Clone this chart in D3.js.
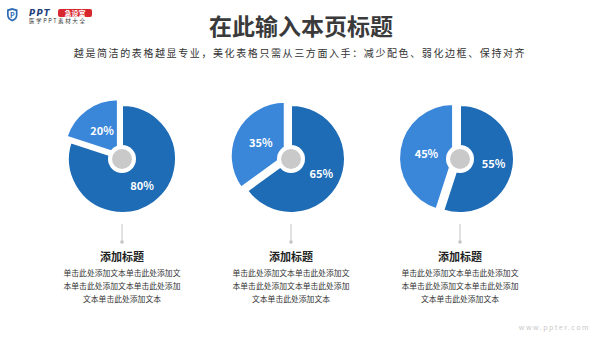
<!DOCTYPE html>
<html>
<head>
<meta charset="utf-8">
<script src="https://cdn.jsdelivr.net/npm/d3@7"></script>
<style>
  html, body { margin: 0; padding: 0; background: #fff; }
  svg { display: block; font-family: "Noto Sans CJK SC", "Noto Sans", sans-serif; }
</style>
</head>
<body>
<svg id="chart" width="600" height="337"></svg>
<script>
// chart data
var groups = ["g1", "g2", "g3"];
var dark_values = [80, 65, 55];
var light_values = [20, 35, 45];
var item_titles = ["添加标题", "添加标题", "添加标题"];
var item_lines = ["单击此处添加文本单击此处添加文", "本单击此处添加文本单击此处添加", "文本单击此处添加文本"];
var page_title = "在此输入本页标题";
var page_subtitle = "越是简洁的表格越显专业，美化表格只需从三方面入手：减少配色、弱化边框、保持对齐";

var width = 600, height = 337;
var radius = 54;
var explode = 7;
var dark_color = "#1e6cb6";
var light_color = "#3a87da";

var svg = d3.select("#chart");

// logo
var logo = svg.append("g").attr("transform", "translate(7,8)");
logo.append("path")
    .attr("d", "M5,0 L10.5,1.5 L10.5,7 Q10.5,11.5 5.25,13.5 Q0,11.5 0,7 L0,1.5 Z")
    .attr("fill", "#2d6bb3");
logo.append("path")
    .attr("d", "M5.25,2 L8.8,3 L8.8,7 Q8.8,10 5.25,11.6 Q1.7,10 1.7,7 L1.7,3 Z")
    .attr("fill", "#fff");
logo.append("text").attr("x", 5.25).attr("y", 9.8)
    .attr("text-anchor", "middle").attr("font-size", 7).attr("font-weight", "bold")
    .attr("fill", "#2d6bb3").text("P");
logo.append("text").attr("x", 22).attr("y", 8)
    .attr("font-size", 8.5).attr("font-weight", "bold").attr("font-style", "italic")
    .attr("letter-spacing", 1.2)
    .attr("fill", "#233f7a").attr("font-family", "DejaVu Sans").text("PPT");
logo.append("rect").attr("x", 51).attr("y", 1).attr("width", 34).attr("height", 8)
    .attr("rx", 2).attr("fill", "#d7262d");
logo.append("text").attr("x", 68).attr("y", 7.8).attr("text-anchor", "middle")
    .attr("font-size", 7).attr("font-weight", "bold").attr("fill", "#fff").text("急设室");
logo.append("text").attr("x", 22).attr("y", 15)
    .attr("font-size", 5.5).attr("letter-spacing", 1.6).attr("fill", "#333")
    .text("医学PPT素材大全");

// titles
svg.append("text")
    .attr("x", 301).attr("y", 35)
    .attr("text-anchor", "middle")
    .attr("font-size", 23).attr("font-weight", "bold")
    .attr("fill", "#3a3a3a")
    .text(page_title);

svg.append("text")
    .attr("x", 300).attr("y", 57)
    .attr("text-anchor", "middle")
    .attr("font-size", 10).attr("letter-spacing", 1.6)
    .attr("fill", "#333")
    .text(page_subtitle);

// pies
var x = d3.scalePoint().domain(groups).range([122, 460]);
var cy = 159;

var pie = d3.pie().sort(null).value(function(d) { return d.value; });
var arc = d3.arc().innerRadius(0).outerRadius(radius);
var label_arc = d3.arc().innerRadius(34).outerRadius(34);

groups.forEach(function(g, i) {
    var slices = pie([
        {value: dark_values[i], type: "dark"},
        {value: light_values[i], type: "light"}
    ]);
    var cx = x(g);
    var gp = svg.append("g").attr("transform", "translate(" + cx + "," + cy + ")");

    gp.selectAll("path")
        .data(slices)
        .enter().append("path")
            .attr("d", arc)
            .attr("fill", function(d) { return d.data.type == "dark" ? dark_color : light_color; })
            .attr("stroke", "#fff")
            .attr("stroke-width", 2)
            .attr("transform", function(d) {
                if (d.data.type == "dark") return null;
                var a = (d.startAngle + d.endAngle) / 2;
                return "translate(" + (Math.sin(a) * explode) + "," + (-Math.cos(a) * explode) + ")";
            });

    gp.selectAll("text.pct")
        .data(slices)
        .enter().append("text")
            .attr("class", "pct")
            .attr("transform", function(d) { return "translate(" + label_arc.centroid(d) + ")"; })
            .attr("text-anchor", "middle")
            .attr("dy", "0.35em")
            .attr("font-size", 11).attr("font-weight", "bold")
            .attr("fill", "#fff")
            .text(function(d) { return d.data.value + "%"; });

    gp.append("circle").attr("r", 14).attr("fill", "#fff");
    gp.append("circle").attr("r", 10).attr("fill", "#c9c9c9");

    // connector + text
    svg.append("line")
        .attr("x1", cx).attr("x2", cx)
        .attr("y1", 224).attr("y2", 242)
        .attr("stroke", "#c4c4c4").attr("stroke-width", 1);
    svg.append("circle")
        .attr("cx", cx).attr("cy", 242).attr("r", 1.8)
        .attr("fill", "#c4c4c4");

    svg.append("text")
        .attr("x", cx).attr("y", 261)
        .attr("text-anchor", "middle")
        .attr("font-size", 11).attr("font-weight", "bold")
        .attr("fill", "#222")
        .text(item_titles[i]);

    item_lines.forEach(function(line, j) {
        svg.append("text")
            .attr("x", cx).attr("y", 276 + j * 13)
            .attr("text-anchor", "middle")
            .attr("font-size", 7.8)
            .attr("fill", "#333")
            .text(line);
    });
});

// watermark
svg.append("text")
    .attr("x", 590).attr("y", 330)
    .attr("text-anchor", "end")
    .attr("font-size", 7).attr("letter-spacing", 1.5)
    .attr("fill", "#c8c8c8")
    .text("www.ppter.com");
</script>
</body>
</html>
